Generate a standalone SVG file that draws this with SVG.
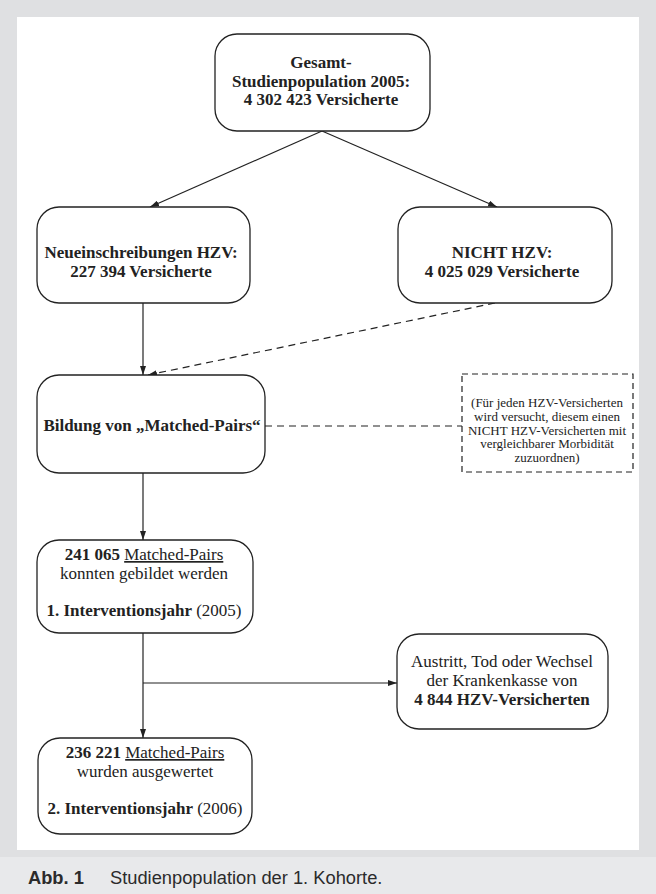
<svg xmlns="http://www.w3.org/2000/svg" width="656" height="894" viewBox="0 0 656 894">
<style>
.box{fill:#fff;stroke:#222;stroke-width:1.3}
.note{fill:#fff;stroke:#222;stroke-width:1.2;stroke-dasharray:6 4}
.ln{fill:none;stroke:#222;stroke-width:1.2}
.dl{fill:none;stroke:#222;stroke-width:1.2;stroke-dasharray:7 5}
.t{font-family:"Liberation Serif","Times New Roman",serif;fill:#222;text-anchor:middle}
.b{font-size:17px;font-weight:bold}
.r{font-size:17px}
.n{font-size:13px}
.cap{font-family:"Liberation Sans",Arial,sans-serif;font-size:18.3px;fill:#2b2b2b}
</style>
<defs>
<marker id="ah" viewBox="0 0 9 6" refX="9" refY="3" markerWidth="9" markerHeight="6" markerUnits="userSpaceOnUse" orient="auto">
<path d="M0,0 L9,3 L0,6 z" fill="#222"/>
</marker>
</defs>
<rect x="0" y="0" width="656" height="894" fill="#dfe0e2"/>
<rect x="0" y="857" width="656" height="37" fill="#e8e9eb"/>
<rect x="17" y="17" width="622" height="833" fill="#fff"/>

<g id="connectors">
<line class="ln" x1="322" y1="131" x2="150" y2="207" marker-end="url(#ah)"/>
<line class="ln" x1="322" y1="131" x2="497" y2="207" marker-end="url(#ah)"/>
<line class="ln" x1="143" y1="303" x2="143" y2="375" marker-end="url(#ah)"/>
<line class="dl" x1="495" y1="303" x2="148" y2="375" marker-end="url(#ah)"/>
<line class="dl" x1="265" y1="426" x2="462" y2="426"/>
<line class="ln" x1="143" y1="473" x2="143" y2="540" marker-end="url(#ah)"/>
<line class="ln" x1="143" y1="633" x2="143" y2="738" marker-end="url(#ah)"/>
<line class="ln" x1="143" y1="683" x2="397" y2="683" marker-end="url(#ah)"/>
</g>

<g id="gesamt">
<rect class="box" x="215" y="34" width="215" height="97" rx="22"/>
<text class="t b" x="321" y="68">Gesamt-</text>
<text class="t b" x="321" y="87">Studienpopulation 2005:</text>
<text class="t b" x="321" y="105">4 302 423 Versicherte</text>
</g>

<g id="hzv">
<rect class="box" x="37" y="207" width="213" height="96" rx="22"/>
<text class="t b" x="141" y="258">Neueinschreibungen HZV:</text>
<text class="t b" x="141" y="277">227 394 Versicherte</text>
</g>

<g id="nicht-hzv">
<rect class="box" x="398" y="207" width="214" height="96" rx="22"/>
<text class="t b" x="502" y="258">NICHT HZV:</text>
<text class="t b" x="502" y="277">4 025 029 Versicherte</text>
</g>

<g id="bildung">
<rect class="box" x="37" y="375" width="228" height="98" rx="22"/>
<text class="t b" x="152" y="431">Bildung von „Matched-Pairs“</text>
</g>

<g id="note">
<rect class="note" x="462" y="374" width="171" height="98"/>
<text class="t n" x="547" y="407">(Für jeden HZV-Versicherten</text>
<text class="t n" x="547" y="421">wird versucht, diesem einen</text>
<text class="t n" x="547" y="434.5">NICHT HZV-Versicherten mit</text>
<text class="t n" x="547" y="448">vergleichbarer Morbidität</text>
<text class="t n" x="547" y="461.5">zuzuordnen)</text>
</g>

<g id="pairs-2005">
<rect class="box" x="37" y="540" width="216" height="93" rx="22"/>
<text class="t r" x="144" y="560"><tspan font-weight="bold">241 065</tspan> <tspan text-decoration="underline">Matched-Pairs</tspan></text>
<text class="t r" x="144" y="579">konnten gebildet werden</text>
<text class="t r" x="144" y="616"><tspan font-weight="bold">1. Interventionsjahr</tspan> (2005)</text>
</g>

<g id="austritt">
<rect class="box" x="397" y="634" width="211" height="95" rx="22"/>
<text class="t r" x="502" y="667">Austritt, Tod oder Wechsel</text>
<text class="t r" x="502" y="686">der Krankenkasse von</text>
<text class="t b" x="502" y="705">4 844 HZV-Versicherten</text>
</g>

<g id="pairs-2006">
<rect class="box" x="38" y="738" width="214" height="96" rx="22"/>
<text class="t r" x="145" y="758"><tspan font-weight="bold">236 221</tspan> <tspan text-decoration="underline">Matched-Pairs</tspan></text>
<text class="t r" x="145" y="777">wurden ausgewertet</text>
<text class="t r" x="145" y="814"><tspan font-weight="bold">2. Interventionsjahr</tspan> (2006)</text>
</g>

<g id="caption">
<text class="cap" x="28" y="884"><tspan font-weight="bold">Abb. 1</tspan><tspan x="110">Studienpopulation der 1. Kohorte.</tspan></text>
</g>
</svg>
